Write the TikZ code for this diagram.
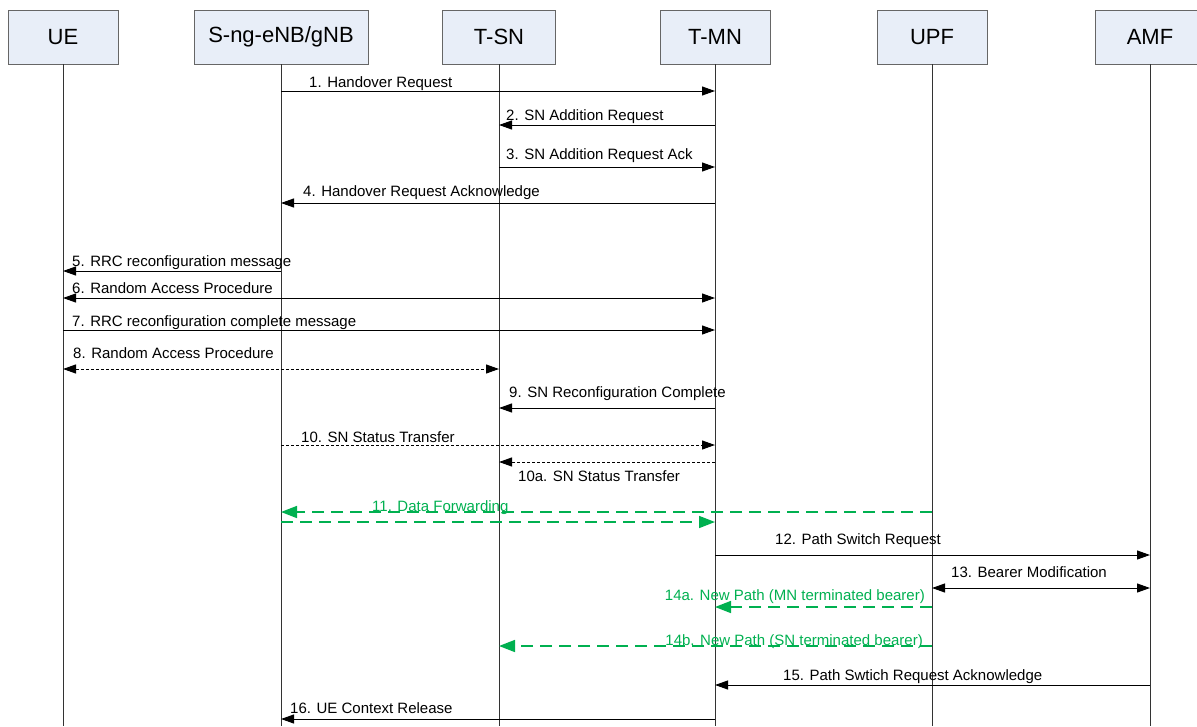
\documentclass[tikz,border=0pt]{standalone}
\usepackage{fontspec}
\setmainfont{Liberation Sans}
\usetikzlibrary{arrows.meta}
\definecolor{boxfill}{RGB}{232,238,248}
\definecolor{fwdgreen}{RGB}{0,176,80}
\begin{document}
\begin{tikzpicture}
    [x=1pt, y=-1pt,
    entity/.style = {draw=black!60, fill=boxfill, line width=0.8pt,
                    minimum height=54pt, font=\fontsize{22}{26}\selectfont},
    life/.style = {draw=black!80, line width=0.8pt},
    msg/.style = {line width=1pt, -{Triangle[length=13pt,width=9pt]}},
    twoway/.style = {line width=1pt, {Triangle[length=13pt,width=9pt]}-{Triangle[length=13pt,width=9pt]}},
    dotmsg/.style = {msg, dash pattern=on 3pt off 2pt},
    fwd/.style = {draw=fwdgreen, line width=1.6pt, dash pattern=on 12pt off 7pt,
                 -{Triangle[length=16pt,width=12pt]}, fwdgreen},
    lbl/.style = {anchor=base west, inner sep=0pt, font=\fontsize{15}{18}\selectfont}]
    \useasboundingbox (0,0) rectangle (1197,726);
    \node[entity, minimum width=110pt] (ue) at (63,37) {UE};
    \node[entity, minimum width=174pt] (sgnb) at (281,37) {S-ng-eNB/gNB};
    \node[entity, minimum width=113pt] (tsn) at (499,37) {T-SN};
    \node[entity, minimum width=110pt] (tmn) at (715,37) {T-MN};
    \node[entity, minimum width=110pt] (upf) at (932,37) {UPF};
    \node[entity, minimum width=110pt] (amf) at (1150,37) {AMF};
    \draw[life] (ue.south) -- (ue |- 0,726);
    \draw[life] (sgnb.south) -- (sgnb |- 0,726);
    \draw[life] (tsn.south) -- (tsn |- 0,726);
    \draw[life] (tmn.south) -- (tmn |- 0,726);
    \draw[life] (upf.south) -- (upf |- 0,726);
    \draw[life] (amf.south) -- (amf |- 0,726);
    \draw[msg] (sgnb |- 0,91) -- (tmn |- 0,91);
    \node[lbl] (m1) at (309,87) {1. Handover Request};
    \draw[msg] (tmn |- 0,125) -- (tsn |- 0,125);
    \node[lbl] (m2) at (506,120) {2. SN Addition Request};
    \draw[msg] (tsn |- 0,167) -- (tmn |- 0,167);
    \node[lbl] (m3) at (506,159) {3. SN Addition Request Ack};
    \draw[msg] (tmn |- 0,203) -- (sgnb |- 0,203);
    \node[lbl] (m4) at (303,196) {4. Handover Request Acknowledge};
    \draw[msg] (sgnb |- 0,271) -- (ue |- 0,271);
    \node[lbl] (m5) at (72,266) {5. RRC reconfiguration message};
    \draw[twoway] (ue |- 0,298) -- (tmn |- 0,298);
    \node[lbl] (m6) at (72,293) {6. Random Access Procedure};
    \draw[msg] (ue |- 0,330) -- (tmn |- 0,330);
    \node[lbl] (m7) at (72,326) {7. RRC reconfiguration complete message};
    \draw[twoway, dash pattern=on 3pt off 2pt] (ue |- 0,369) -- (tsn |- 0,369);
    \node[lbl] (m8) at (73,358) {8. Random Access Procedure};
    \draw[msg] (tmn |- 0,408) -- (tsn |- 0,408);
    \node[lbl] (m9) at (509,397) {9. SN Reconfiguration Complete};
    \draw[dotmsg] (sgnb |- 0,445) -- (tmn |- 0,445);
    \node[lbl] (m10) at (301,442) {10. SN Status Transfer};
    \draw[dotmsg] (tmn |- 0,462) -- (tsn |- 0,462);
    \node[lbl] (m10a) at (518,481) {10a. SN Status Transfer};
    \draw[fwd] (upf |- 0,512) -- (sgnb |- 0,512);
    \draw[fwd] (sgnb |- 0,522) -- (tmn |- 0,522);
    \node[lbl, text=fwdgreen] (m11) at (372,511) {11. Data Forwarding};
    \draw[msg] (tmn |- 0,555) -- (amf |- 0,555);
    \node[lbl] (m12) at (775,544) {12. Path Switch Request};
    \draw[twoway] (upf |- 0,588) -- (amf |- 0,588);
    \node[lbl] (m13) at (951,577) {13. Bearer Modification};
    \draw[fwd] (upf |- 0,607) -- (tmn |- 0,607);
    \node[lbl, anchor=base east, text=fwdgreen] (m14a) at (925,600) {14a. New Path (MN terminated bearer)};
    \draw[fwd] (upf |- 0,646) -- (tsn |- 0,646);
    \node[lbl, anchor=base east, text=fwdgreen] (m14b) at (923,645) {14b. New Path (SN terminated bearer)};
    \draw[msg] (amf |- 0,685) -- (tmn |- 0,685);
    \node[lbl] (m15) at (783,680) {15. Path Swtich Request Acknowledge};
    \draw[msg] (tmn |- 0,719) -- (sgnb |- 0,719);
    \node[lbl] (m16) at (290,713) {16. UE Context Release};
\end{tikzpicture}
\end{document}
